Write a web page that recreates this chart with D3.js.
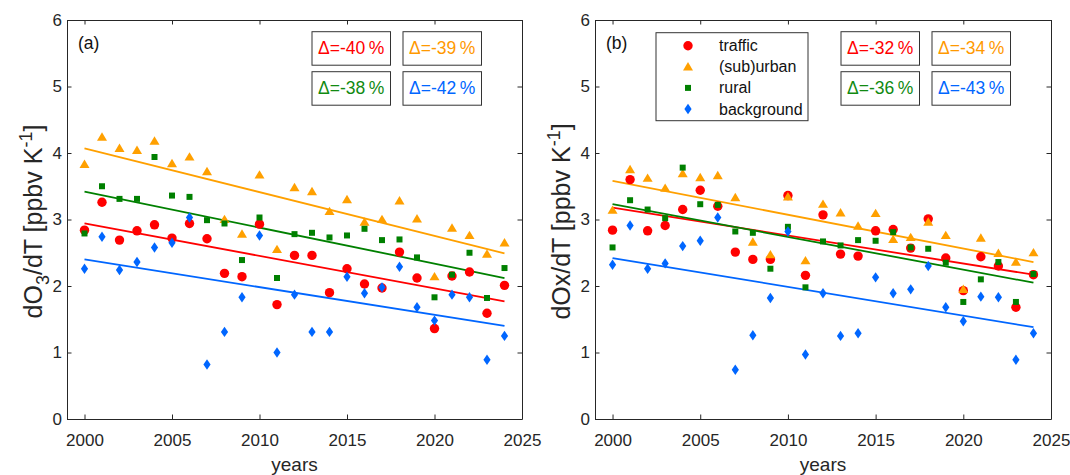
<!DOCTYPE html>
<html>
<head>
<meta charset="utf-8">
<script src="https://cdn.jsdelivr.net/npm/d3@7"></script>
<style>
  body { margin: 0; background: #fff; }
  svg { display: block; font-family: "Liberation Sans", Arial, sans-serif; }
</style>
</head>
<body>
<div id="chart"></div>
<script>
// years on the x axis
const YEARS = [2000, 2001, 2002, 2003, 2004, 2005, 2006, 2007, 2008, 2009, 2010, 2011, 2012,
  2013, 2014, 2015, 2016, 2017, 2018, 2019, 2020, 2021, 2022, 2023, 2024];
const X_TICKS = [2000, 2005, 2010, 2015, 2020, 2025];
const Y_TICKS = [0, 1, 2, 3, 4, 5, 6];
const SERIES = ['traffic', '(sub)urban', 'rural', 'background'];

// panel (a): dO3/dT
const o3Traffic = [2.84, 3.26, 2.69, 2.83, 2.92, 2.72, 2.94, 2.71, 2.19, 2.14, 2.93, 1.72, 2.46, 2.46, 1.90, 2.26, 2.03, 1.97, 2.51, 2.12, 1.36, 2.15, 2.21, 1.59, 2.01];
const o3Urban = [3.83, 4.24, 4.07, 4.04, 4.18, 3.84, 3.94, 3.72, 3.00, 2.78, 3.67, 2.55, 3.48, 3.42, 3.12, 3.30, 2.96, 3.00, 3.28, 3.01, 2.14, 2.87, 2.76, 2.48, 2.65];
const o3Rural = [2.79, 3.50, 3.31, 3.31, 3.94, 3.36, 3.34, 2.99, 2.94, 2.39, 3.03, 2.12, 2.78, 2.80, 2.73, 2.76, 2.86, 2.69, 2.70, 2.43, 1.83, 2.17, 2.50, 1.82, 2.27];
const o3Background = [2.26, 2.74, 2.24, 2.36, 2.58, 2.65, 3.03, 0.82, 1.31, 1.83, 2.76, 1.00, 1.87, 1.31, 1.31, 2.14, 1.89, 1.98, 2.29, 1.68, 1.48, 1.87, 1.83, 0.89, 1.25];
// fitted trend at 2000 and 2024
const o3Fit = [[2.94, 1.77], [4.07, 2.49], [3.42, 2.12], [2.40, 1.40]];
const o3Delta = [-40, -39, -38, -42];

// panel (b): dOx/dT
const oxTraffic = [2.84, 3.60, 2.83, 2.91, 3.15, 3.44, 3.20, 2.51, 2.40, 2.40, 3.36, 2.16, 3.07, 2.48, 2.45, 2.83, 2.85, 2.57, 3.01, 2.42, 1.93, 2.44, 2.30, 1.68, 2.17];
const oxUrban = [3.14, 3.75, 3.62, 3.47, 3.69, 3.63, 3.66, 3.33, 2.66, 2.47, 3.34, 2.38, 3.23, 3.10, 2.90, 3.09, 2.70, 2.73, 2.96, 2.76, 1.95, 2.72, 2.49, 2.36, 2.50];
const oxRural = [2.58, 3.29, 3.15, 3.02, 3.78, 3.23, 3.22, 2.82, 2.80, 2.26, 2.89, 1.98, 2.67, 2.61, 2.69, 2.68, 2.81, 2.58, 2.56, 2.35, 1.76, 2.10, 2.36, 1.76, 2.18];
const oxBackground = [2.32, 2.91, 2.26, 2.34, 2.60, 2.68, 3.03, 0.74, 1.26, 1.82, 2.82, 0.97, 1.89, 1.25, 1.29, 2.13, 1.89, 1.95, 2.30, 1.68, 1.47, 1.84, 1.83, 0.89, 1.29];
const oxFit = [[3.18, 2.17], [3.58, 2.36], [3.23, 2.05], [2.42, 1.38]];
const oxDelta = [-32, -34, -36, -43];

const COLORS = ['#ff0000', '#ffa000', '#008000', '#0066ff'];
const TEXT_COLORS = ['#ff0000', '#ff9900', '#118a11', '#0066ff'];
const MARKERS = [
  'M4.7,0A4.7,4.7 0 1,1 -4.7,0A4.7,4.7 0 1,1 4.7,0Z',
  'M0,-4.8L5,3.6L-5,3.6Z',
  'M-3,-3H3V3H-3Z',
  'M0,-5.2L3.6,0L0,5.2L-3.6,0Z',
];

const W = 1070, H = 475;
const svg = d3.select('#chart').append('svg').attr('width', W).attr('height', H);

function drawPanel({ left, right, top, bottom, series, fits, deltas, tag, ylab, legend }) {
  const x = d3.scaleLinear().domain([1999, 2025]).range([left, right]);
  const y = d3.scaleLinear().domain([0, 6]).range([bottom, top]);
  const g = svg.append('g');
  const axisColor = '#262626';

  // trend lines
  fits.forEach((f, i) => {
    g.append('line')
      .attr('x1', x(YEARS[0])).attr('y1', y(f[0]))
      .attr('x2', x(YEARS[YEARS.length - 1])).attr('y2', y(f[1]))
      .attr('stroke', COLORS[i]).attr('stroke-width', 1.8);
  });

  // markers
  series.forEach((vals, i) => {
    g.append('g').selectAll('path')
      .data(vals.map((v, j) => [YEARS[j], v]))
      .join('path')
      .attr('d', MARKERS[i])
      .attr('transform', (d) => `translate(${x(d[0])},${y(d[1])})`)
      .attr('fill', COLORS[i]);
  });

  // axes (box with inward ticks)
  const xb = g.append('g').attr('transform', `translate(0,${bottom})`)
    .call(d3.axisBottom(x).tickValues(X_TICKS).tickSizeInner(-4.5).tickSizeOuter(0).tickFormat(d3.format('d')).tickPadding(15));
  const xt = g.append('g').attr('transform', `translate(0,${top})`)
    .call(d3.axisTop(x).tickValues(X_TICKS).tickSizeInner(-4.5).tickSizeOuter(0).tickFormat(''));
  const yl = g.append('g').attr('transform', `translate(${left},0)`)
    .call(d3.axisLeft(y).tickValues(Y_TICKS).tickSizeInner(-4.5).tickSizeOuter(0).tickFormat(d3.format('d')).tickPadding(5));
  const yr = g.append('g').attr('transform', `translate(${right},0)`)
    .call(d3.axisRight(y).tickValues(Y_TICKS).tickSizeInner(-4.5).tickSizeOuter(0).tickFormat(''));
  [xb, xt, yl, yr].forEach((a) => {
    a.selectAll('path,line').attr('stroke', axisColor);
    a.selectAll('text').attr('fill', axisColor).attr('font-size', 17).attr('font-family', null);
  });

  g.append('text')
    .attr('x', (left + right) / 2).attr('y', 471)
    .attr('text-anchor', 'middle').attr('fill', axisColor).attr('font-size', 19)
    .text('years');

  const yt = g.append('text')
    .attr('transform', `translate(${left - 25},${(top + bottom) / 2 + 2}) rotate(-90)`)
    .attr('text-anchor', 'middle').attr('fill', axisColor).attr('font-size', 25);
  ylab.forEach((part) => {
    const t = yt.append('tspan').text(part.t);
    if (part.sub) t.attr('font-size', 18).attr('dy', 7);
    else if (part.sup) t.attr('font-size', 18).attr('dy', -10);
    else if (part.reset) t.attr('dy', part.reset);
  });

  g.append('text')
    .attr('x', left + 11).attr('y', 49)
    .attr('fill', '#111').attr('font-size', 17.5)
    .text(tag);

  // delta boxes: two rows, two columns
  const boxW = 78.5, boxH = 33.5;
  deltas.forEach((d, i) => {
    const bx = right - 210 + (i % 2) * 91;
    const by = 31.7 + Math.floor(i / 2) * 40;
    g.append('rect')
      .attr('x', bx).attr('y', by).attr('width', boxW).attr('height', boxH)
      .attr('fill', '#fff').attr('stroke', '#333').attr('stroke-width', 1);
    g.append('text')
      .attr('x', bx + boxW / 2).attr('y', by + boxH / 2 + 6)
      .attr('text-anchor', 'middle').attr('fill', TEXT_COLORS[i]).attr('font-size', 17.5)
      .text(`\u0394=${d}\u2009%`);
  });

  if (legend) {
    const lx = left + 61, ly = 32.7, lw = 152, lh = 88;
    g.append('rect')
      .attr('x', lx).attr('y', ly).attr('width', lw).attr('height', lh)
      .attr('fill', '#fff').attr('stroke', '#333').attr('stroke-width', 1);
    SERIES.forEach((s, i) => {
      const ry = ly + 13 + i * 21.1;
      g.append('path').attr('d', MARKERS[i])
        .attr('transform', `translate(${lx + 32},${ry})`).attr('fill', COLORS[i]);
      g.append('text').attr('x', lx + 63).attr('y', ry + 5.5)
        .attr('fill', '#111').attr('font-size', 16).text(s);
    });
  }
}

drawPanel({
  left: 67, right: 522, top: 20, bottom: 419,
  series: [o3Traffic, o3Urban, o3Rural, o3Background],
  fits: o3Fit, deltas: o3Delta, tag: '(a)',
  ylab: [{ t: 'dO' }, { t: '3', sub: true }, { t: '/dT [ppbv K', reset: -7 }, { t: '-1', sup: true }, { t: ']', reset: 10 }],
  legend: false,
});

drawPanel({
  left: 595, right: 1051, top: 20, bottom: 419,
  series: [oxTraffic, oxUrban, oxRural, oxBackground],
  fits: oxFit, deltas: oxDelta, tag: '(b)',
  ylab: [{ t: 'dOx/dT [ppbv K' }, { t: '-1', sup: true }, { t: ']', reset: 10 }],
  legend: true,
});
</script>
</body>
</html>
